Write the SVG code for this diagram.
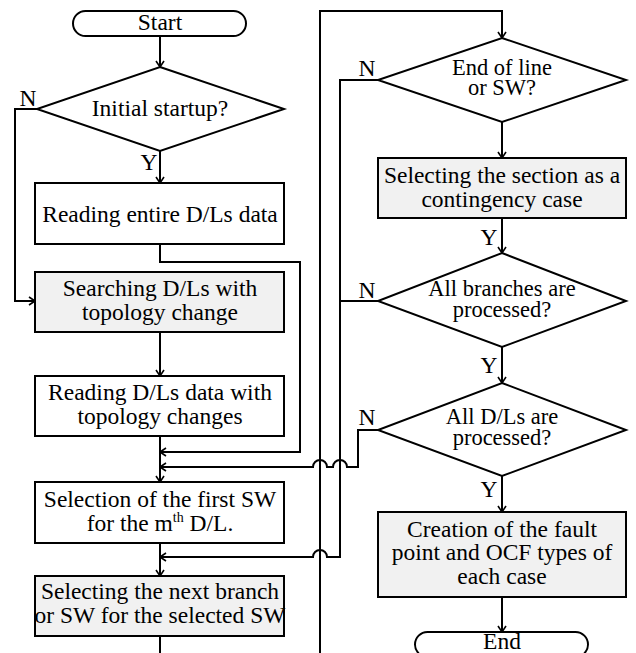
<svg xmlns="http://www.w3.org/2000/svg" width="636" height="653" viewBox="0 0 636 653" font-family="Liberation Serif">
<defs>
<marker id="a" viewBox="0 0 10 10" markerWidth="10" markerHeight="10" refX="10" refY="5" orient="auto" markerUnits="userSpaceOnUse">
<path d="M4,1 L10,5 L4,9" fill="none" stroke="#000" stroke-width="1.6"/>
</marker>
</defs>
<rect width="636" height="653" fill="#fff"/>
<g id="connectors" fill="none" stroke="#000" stroke-width="2">
<path d="M160,36 V67" marker-end="url(#a)"/>
<path d="M160,151 V183" marker-end="url(#a)"/>
<path d="M37,109 H15 V301 H35" marker-end="url(#a)"/>
<path d="M160,244 V262 H300 V452 H160" marker-end="url(#a)"/>
<path d="M160,332 V376" marker-end="url(#a)"/>
<path d="M160,436 V482" marker-end="url(#a)"/>
<path d="M378,430 H358 V467 H347 a7,7 0 0 0 -14,0 H327 a7,7 0 0 0 -14,0 H160" marker-end="url(#a)"/>
<path d="M160,543 V576" marker-end="url(#a)"/>
<path d="M378,80 H340 V557 H327 a7,7 0 0 0 -14,0 H160" marker-end="url(#a)"/>
<path d="M378,301 H340"/>
<path d="M160,636 V653"/>
<path d="M320,653 V11 H502 V38" marker-end="url(#a)"/>
<path d="M502,122 V158" marker-end="url(#a)"/>
<path d="M502,218 V253" marker-end="url(#a)"/>
<path d="M502,347 V383" marker-end="url(#a)"/>
<path d="M502,476 V512" marker-end="url(#a)"/>
<path d="M502,597 V632" marker-end="url(#a)"/>
</g>
<g id="start">
<rect fill="#fff" stroke="#000" stroke-width="2" x="73" y="11" width="173" height="25" rx="12.5"/>
<text style="font-family:'Liberation Serif',serif;font-size:23.5px" text-anchor="middle" x="160" y="30">Start</text>
</g>
<g id="initial-startup">
<polygon fill="#fff" stroke="#000" stroke-width="2" points="160,67 284,109 160,151 37,109"/>
<text style="font-family:'Liberation Serif',serif;font-size:23.5px" text-anchor="middle" x="160" y="116">Initial startup?</text>
<text style="font-family:'Liberation Serif',serif;font-size:23.5px" text-anchor="middle" x="28" y="106">N</text>
<text style="font-family:'Liberation Serif',serif;font-size:23.5px" text-anchor="middle" x="149" y="170">Y</text>
</g>
<g id="reading-entire">
<rect fill="#fff" stroke="#000" stroke-width="2" x="35" y="183" width="249" height="61"/>
<text style="font-family:'Liberation Serif',serif;font-size:23.5px" text-anchor="middle" x="160" y="222">Reading entire D/Ls data</text>
</g>
<g id="searching">
<rect fill="#f1f1f1" stroke="#000" stroke-width="2" x="35" y="272" width="249" height="60"/>
<text style="font-family:'Liberation Serif',serif;font-size:23.5px" text-anchor="middle" x="160" y="296">Searching D/Ls with</text>
<text style="font-family:'Liberation Serif',serif;font-size:23.5px" text-anchor="middle" x="160" y="320">topology change</text>
</g>
<g id="reading-changes">
<rect fill="#fff" stroke="#000" stroke-width="2" x="35" y="376" width="249" height="60"/>
<text style="font-family:'Liberation Serif',serif;font-size:23.5px" text-anchor="middle" x="160" y="400">Reading D/Ls data with</text>
<text style="font-family:'Liberation Serif',serif;font-size:23.5px" text-anchor="middle" x="160" y="424">topology changes</text>
</g>
<g id="selection-first">
<rect fill="#fff" stroke="#000" stroke-width="2" x="35" y="482" width="249" height="61"/>
<text style="font-family:'Liberation Serif',serif;font-size:23.5px" text-anchor="middle" x="160" y="507">Selection of the first SW</text>
<text style="font-family:'Liberation Serif',serif;font-size:23.5px" text-anchor="middle" x="160" y="531">for the m<tspan dy="-9" style="font-size:14px">th</tspan><tspan dy="9"> D/L.</tspan></text>
</g>
<g id="selecting-next">
<rect fill="#f1f1f1" stroke="#000" stroke-width="2" x="35" y="576" width="249" height="60"/>
<text style="font-family:'Liberation Serif',serif;font-size:23.5px" text-anchor="middle" x="160" y="599">Selecting the next branch</text>
<text style="font-family:'Liberation Serif',serif;font-size:23.5px" text-anchor="middle" x="160" y="623">or SW for the selected SW</text>
</g>
<g id="end-of-line">
<polygon fill="#fff" stroke="#000" stroke-width="2" points="502,38 626,80 502,122 378,80"/>
<text style="font-family:'Liberation Serif',serif;font-size:22.5px" text-anchor="middle" x="502" y="75">End of line</text>
<text style="font-family:'Liberation Serif',serif;font-size:22.5px" text-anchor="middle" x="502" y="95">or SW?</text>
<text style="font-family:'Liberation Serif',serif;font-size:23.5px" text-anchor="middle" x="367" y="76">N</text>
</g>
<g id="selecting-section">
<rect fill="#f1f1f1" stroke="#000" stroke-width="2" x="378" y="158" width="248" height="60"/>
<text style="font-family:'Liberation Serif',serif;font-size:23.5px" text-anchor="middle" x="502" y="183">Selecting the section as a</text>
<text style="font-family:'Liberation Serif',serif;font-size:23.5px" text-anchor="middle" x="502" y="207">contingency case</text>
<text style="font-family:'Liberation Serif',serif;font-size:23.5px" text-anchor="middle" x="489" y="245">Y</text>
</g>
<g id="all-branches">
<polygon fill="#fff" stroke="#000" stroke-width="2" points="502,253 626,301 502,347 378,301"/>
<text style="font-family:'Liberation Serif',serif;font-size:22.5px" text-anchor="middle" x="502" y="296">All branches are</text>
<text style="font-family:'Liberation Serif',serif;font-size:22.5px" text-anchor="middle" x="502" y="317">processed?</text>
<text style="font-family:'Liberation Serif',serif;font-size:23.5px" text-anchor="middle" x="367" y="298">N</text>
<text style="font-family:'Liberation Serif',serif;font-size:23.5px" text-anchor="middle" x="489" y="373">Y</text>
</g>
<g id="all-dls">
<polygon fill="#fff" stroke="#000" stroke-width="2" points="502,383 626,430 502,476 378,430"/>
<text style="font-family:'Liberation Serif',serif;font-size:22.5px" text-anchor="middle" x="502" y="424">All D/Ls are</text>
<text style="font-family:'Liberation Serif',serif;font-size:22.5px" text-anchor="middle" x="502" y="445">processed?</text>
<text style="font-family:'Liberation Serif',serif;font-size:23.5px" text-anchor="middle" x="367" y="425">N</text>
<text style="font-family:'Liberation Serif',serif;font-size:23.5px" text-anchor="middle" x="489" y="497">Y</text>
</g>
<g id="creation">
<rect fill="#f1f1f1" stroke="#000" stroke-width="2" x="378" y="512" width="248" height="85"/>
<text style="font-family:'Liberation Serif',serif;font-size:23.5px" text-anchor="middle" x="502" y="537">Creation of the fault</text>
<text style="font-family:'Liberation Serif',serif;font-size:23.5px" text-anchor="middle" x="502" y="560">point and OCF types of</text>
<text style="font-family:'Liberation Serif',serif;font-size:23.5px" text-anchor="middle" x="502" y="584">each case</text>
</g>
<g id="end">
<rect fill="#fff" stroke="#000" stroke-width="2" x="415" y="632" width="173" height="25" rx="12.5"/>
<text style="font-family:'Liberation Serif',serif;font-size:23.5px" text-anchor="middle" x="502" y="649">End</text>
</g>
</svg>
